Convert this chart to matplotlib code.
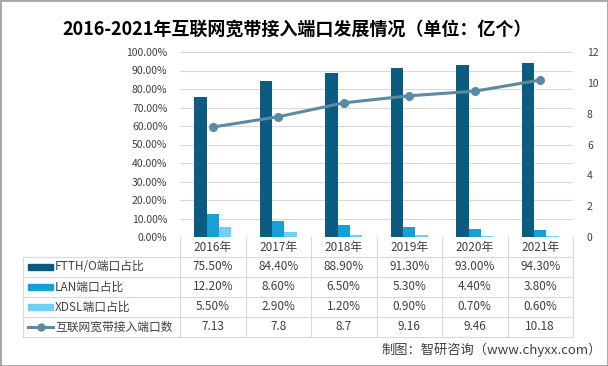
import matplotlib
matplotlib.use("Agg")
import matplotlib.pyplot as plt
import matplotlib.transforms as mtrans
from matplotlib.patches import Rectangle
from matplotlib.lines import Line2D
import numpy as np

plt.rcParams['font.family'] = ['Noto Sans CJK SC', 'DejaVu Sans']

# data
years = ['2016年', '2017年', '2018年', '2019年', '2020年', '2021年']
ftth = [75.5, 84.4, 88.9, 91.3, 93.0, 94.3]
lan = [12.2, 8.6, 6.5, 5.3, 4.4, 3.8]
xdsl = [5.5, 2.9, 1.2, 0.9, 0.7, 0.6]
ports = [7.13, 7.8, 8.7, 9.16, 9.46, 10.18]
series_names = ['FTTH/O端口占比', 'LAN端口占比', 'XDSL端口占比', '互联网宽带接入端口数']

c_ftth = '#0b5c80'
c_lan = '#17a0d5'
c_xdsl = '#6fcff4'
c_line = '#5b8aa4'
c_grid = '#d9d9d9'
c_text = '#404040'

W, H = 608, 366
fig = plt.figure(figsize=(W / 100, H / 100), dpi=100)

def fx(px):
    return px / W

def fy(py):
    return 1 - py / H

ax = fig.add_axes([fx(180), fy(237), fx(573) - fx(180), fy(52) - fy(237)])
x = np.arange(len(years))
bw = 0.19
ax.bar(x - bw, ftth, bw, color=c_ftth, zorder=3)
ax.bar(x, lan, bw, color=c_lan, zorder=3)
ax.bar(x + bw, xdsl, bw, color=c_xdsl, zorder=3)
ax.set_xlim(-0.5, len(years) - 0.5)
ax.set_ylim(0, 100)
ax.set_yticks(np.arange(0, 101, 10))
ax.set_yticklabels(['%.2f%%' % v for v in np.arange(0, 101, 10)])
ax.set_xticks([])
ax.grid(axis='y', color=c_grid, lw=0.8, zorder=0)
ax.tick_params(axis='y', length=0, pad=9, labelsize=7.5, labelcolor=c_text)
for s in ax.spines.values():
    s.set_visible(False)

ax2 = ax.twinx()
ax2.plot(x, ports, color=c_line, lw=2.2, marker='o', ms=5.5, zorder=5)
ax2.set_ylim(0, 12)
ax2.set_yticks(np.arange(0, 13, 2))
ax2.tick_params(axis='y', length=0, pad=10, labelsize=7.5, labelcolor=c_text)
for s in ax2.spines.values():
    s.set_visible(False)

# data table under the chart
tr = mtrans.blended_transform_factory(ax.transData, fig.transFigure)
row_lines = [257, 277, 297, 317, 337]
for py in row_lines:
    fig.add_artist(Line2D([fx(23), fx(573)], [fy(py), fy(py)], color=c_grid, lw=0.8))
fig.add_artist(Line2D([fx(23), fx(23)], [fy(257), fy(337)], color=c_grid, lw=0.8))
for xb in np.arange(-0.5, len(years), 1.0):
    ax.add_line(Line2D([xb, xb], [fy(237), fy(337)], transform=tr, color=c_grid,
                       lw=0.8, clip_on=False))

tsize = 8.5
for i, yr in enumerate(years):
    ax.text(i, fy(247), yr, transform=tr, ha='center', va='center', fontsize=tsize, color=c_text)
rows = [['%.2f%%' % v for v in ftth], ['%.2f%%' % v for v in lan],
        ['%.2f%%' % v for v in xdsl], ['%g' % v for v in ports]]
row_y = [267, 287, 307, 327]
for r, py in zip(rows, row_y):
    for i, t in enumerate(r):
        ax.text(i, fy(py), t, transform=tr, ha='center', va='center', fontsize=tsize, color=c_text)

# legend keys in the table
for col, py in zip([c_ftth, c_lan, c_xdsl], row_y[:3]):
    fig.add_artist(Rectangle((fx(28), fy(py + 3)), fx(53) - fx(28), fy(py - 3) - fy(py + 3),
                             transform=fig.transFigure, color=col))
fig.add_artist(Line2D([fx(28), fx(53)], [fy(327), fy(327)], color=c_line, lw=2.2))
fig.add_artist(Line2D([fx(40.5)], [fy(327)], color=c_line, marker='o', ms=5))
for name, py in zip(series_names, row_y):
    fig.text(fx(55), fy(py), name, ha='left', va='center', fontsize=tsize, color=c_text)

fig.text(fx(297), fy(29), '2016-2021年互联网宽带接入端口发展情况（单位：亿个）',
         ha='center', va='center', fontsize=13, fontweight='bold', color='black')
fig.text(fx(602), fy(350), '制图：智研咨询（www.chyxx.com）', ha='right', va='center',
         fontsize=9.5, color=c_text)

fig.add_artist(Rectangle((0, 0), 1, 1, transform=fig.transFigure, fill=False,
                         edgecolor='#a6a6a6', lw=2))

fig.savefig('out.png', dpi=100)
